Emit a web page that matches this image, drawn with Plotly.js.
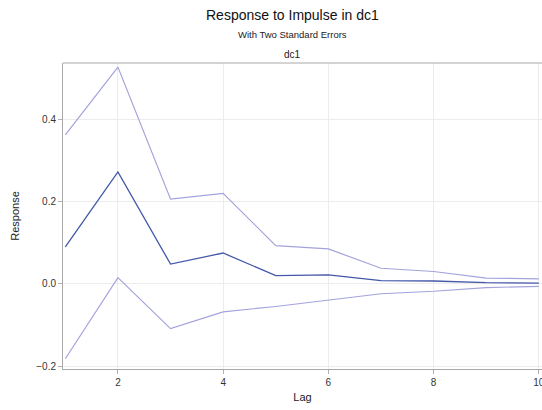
<!DOCTYPE html>
<html><head><meta charset="utf-8">
<script src="https://cdn.plot.ly/plotly-3.0.1.min.js"></script>
<style>html,body{margin:0;padding:0;background:#fff;}#c{width:542px;height:410px;}</style>
</head><body><div id="c"></div>
<script>
const lags = [1,2,3,4,5,6,7,8,9,10];
const response = [0.090,0.272,0.048,0.075,0.020,0.022,0.008,0.007,0.003,0.002];
const upper = [0.362,0.527,0.206,0.220,0.093,0.085,0.038,0.030,0.014,0.012];
const lower = [-0.182,0.015,-0.109,-0.068,-0.055,-0.040,-0.024,-0.018,-0.009,-0.006];
const xTicks = [2,4,6,8,10];
const yTicks = [-0.2,0.0,0.2,0.4];
const yTickText = ['\u22120.2','0.0','0.2','0.4'];

const band = {color:'#a3a3dc', width:1.2};
const traces = [
  {x:lags, y:upper, mode:'lines', line:band, hoverinfo:'skip'},
  {x:lags, y:lower, mode:'lines', line:band, hoverinfo:'skip'},
  {x:lags, y:response, mode:'lines', line:{color:'#4358a8', width:1.3}}
];
const font = {family:'Liberation Sans, Arial, sans-serif', color:'#333'};
const layout = {
  width:542, height:410,
  margin:{l:63, r:0, t:63, b:41},
  paper_bgcolor:'#fff', plot_bgcolor:'#fff',
  showlegend:false,
  font:font,
  xaxis:{range:[0.956,10.06], tickvals:xTicks, ticks:'outside', ticklen:4, tickcolor:'#b0b0b0',
    ticklabeloverflow:'allow',
    showgrid:true, gridcolor:'#ececec', zeroline:false, showline:true, linecolor:'#a8a8a8', mirror:false,
    tickfont:{size:10, color:'#333'}, title:{text:'Lag', font:{size:11, color:'#222'}, standoff:6}},
  yaxis:{range:[-0.207,0.537], tickvals:yTicks, ticktext:yTickText, ticks:'outside', ticklen:4, tickcolor:'#b0b0b0',
    showgrid:true, gridcolor:'#ececec', zeroline:false, showline:true, linecolor:'#a8a8a8',
    tickfont:{size:10, color:'#333'}, title:{text:'Response', font:{size:11, color:'#222'}, standoff:14}},
  shapes:[{type:'line', xref:'paper', yref:'paper', x0:0, x1:1, y0:1, y1:1, line:{color:'#a8a8a8', width:1}}],
  annotations:[
    {text:'Response to Impulse in dc1', xref:'paper', yref:'paper', x:0.479, y:1, yshift:48, showarrow:false, xanchor:'center', yanchor:'middle', font:{size:14, color:'#111'}},
    {text:'With Two Standard Errors', xref:'paper', yref:'paper', x:0.479, y:1, yshift:29, showarrow:false, xanchor:'center', yanchor:'middle', font:{size:9.5, color:'#222'}},
    {text:'dc1', xref:'paper', yref:'paper', x:0.479, y:1, yshift:9, showarrow:false, xanchor:'center', yanchor:'middle', font:{size:10, color:'#222'}}
  ]
};
Plotly.newPlot('c', traces, layout, {displayModeBar:false, staticPlot:true});
</script></body></html>
